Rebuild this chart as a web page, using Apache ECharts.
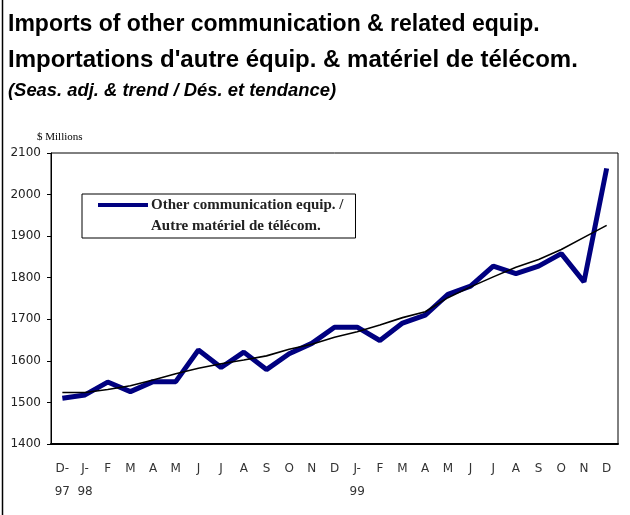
<!DOCTYPE html>
<html>
<head>
<meta charset="utf-8">
<script src="https://cdn.jsdelivr.net/npm/echarts@6/dist/echarts.min.js"></script>
<style>html,body{margin:0;padding:0;background:#fff}#c{width:630px;height:515px}</style>
</head>
<body>
<div id="c"></div>
<script>
const categories = ['D-\n97','J-\n98','F','M','A','M','J','J','A','S','O','N','D','J-\n99','F','M','A','M','J','J','A','S','O','N','D'];
const imports = [1510,1518,1549,1526,1550,1550,1626,1584,1621,1579,1617,1642,1681,1681,1649,1691,1710,1760,1780,1828,1810,1828,1858,1790,2063];
const trend = [1524,1524,1531,1540,1554,1569,1582,1593,1602,1612,1628,1640,1657,1670,1686,1704,1718,1752,1778,1802,1825,1844,1868,1897,1926];
const yTicks = {min:1400, max:2100, interval:100};

const chart = echarts.init(document.getElementById('c'), null, {renderer:'canvas'});
chart.setOption({
  animation:false,
  backgroundColor:'#fff',
  title:[
    {text:'Imports of other communication & related equip.', left:3, top:8,
     textStyle:{fontFamily:'Liberation Sans', fontWeight:'bold', fontSize:23, color:'#000'}},
    {text:"Importations d'autre équip. & matériel de télécom.", left:3, top:43,
     textStyle:{fontFamily:'Liberation Sans', fontWeight:'bold', fontSize:24, color:'#000'}},
    {text:'(Seas. adj. & trend / Dés. et tendance)', left:3, top:77,
     textStyle:{fontFamily:'Liberation Sans', fontWeight:'bold', fontStyle:'italic', fontSize:18.4, color:'#000'}},
    {text:'$ Millions', left:32, top:127,
     textStyle:{fontFamily:'Liberation Serif', fontWeight:'normal', fontSize:11, color:'#000'}}
  ],
  legend:{
    left:82, top:194,
    data:[{name:'Other communication equip. /\nAutre matériel de télécom.',
      icon:'path://M0,0h0.01v0.01h-0.01z M0,7h50v4h-50z M0,40h0.01v0.01h-0.01z'}],
    itemWidth:50, itemHeight:40, itemGap:0,
    padding:[1,12,1,16],
    borderColor:'#000', borderWidth:1, backgroundColor:'#fff',
    textStyle:{fontFamily:'Liberation Serif', fontWeight:'bold', fontSize:15, color:'#222', lineHeight:21, padding:[0,0,0,-2]}
  },
  grid:{left:51, right:12, top:153, bottom:71, show:true, borderColor:'#000', borderWidth:1},
  xAxis:{
    type:'category', data:categories, boundaryGap:true,
    axisLine:{lineStyle:{color:'#000', width:2}},
    axisTick:{inside:true, length:5, lineStyle:{color:'#000', width:1}},
    axisLabel:{interval:0, margin:13, fontFamily:'DejaVu Sans', fontSize:12, color:'#333', lineHeight:23, verticalAlign:'top'},
    splitLine:{show:false}
  },
  yAxis:{
    type:'value', min:yTicks.min, max:yTicks.max, interval:yTicks.interval,
    axisLine:{show:true, lineStyle:{color:'#000', width:1}},
    axisTick:{show:true, length:4, lineStyle:{color:'#000'}},
    axisLabel:{margin:10, fontFamily:'DejaVu Sans', fontSize:12, color:'#222', formatter:function(v){return String(v);}},
    splitLine:{show:false}
  },
  series:[
    {name:'Other communication equip. /\nAutre matériel de télécom.', type:'line', data:imports, symbol:'none',
     lineStyle:{color:'#000080', width:5}, itemStyle:{color:'#000080'}, z:3},
    {name:'trend', type:'line', data:trend, symbol:'none', smooth:false,
     lineStyle:{color:'#000', width:1.6}, itemStyle:{color:'#000'}, z:4}
  ],
  graphic:[
    {type:'line', shape:{x1:2.5, y1:0, x2:2.5, y2:515}, style:{stroke:'#000', lineWidth:1.5}}
  ]
});
</script>
</body>
</html>
